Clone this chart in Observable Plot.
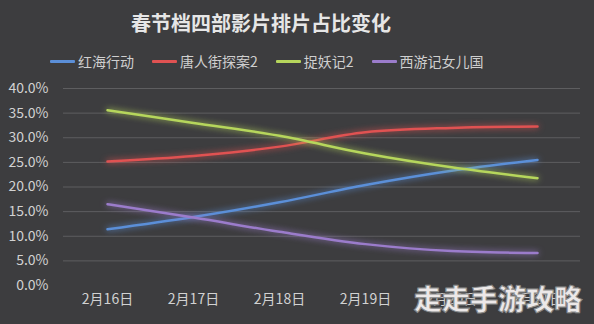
<!DOCTYPE html>
<html><head><meta charset="utf-8">
<script src="https://cdn.jsdelivr.net/npm/d3@7"></script>
<script src="https://cdn.jsdelivr.net/npm/@observablehq/plot@0.6"></script>
<style>
html,body{margin:0;padding:0;}
body{width:594px;height:324px;background:#3d3d3f;position:relative;overflow:hidden;font-family:"Noto Sans CJK SC","Noto Sans",sans-serif;}
#title{position:absolute;left:0;width:522px;top:8px;text-align:center;color:#e6e6e6;font-size:20px;font-weight:bold;line-height:30px;}
#legend{position:absolute;left:50px;top:50px;display:flex;gap:18px;color:#cfcfcf;font-size:14px;line-height:22px;}
#legend .it{display:flex;align-items:center;gap:3px;}
#legend .sw{width:25px;height:3px;border-radius:1px;}
#chart{position:absolute;left:0;top:72px;}
#wm{position:absolute;left:414px;top:280px;font-size:28px;font-weight:900;color:#ece8e8;letter-spacing:0px;-webkit-text-stroke:1px #8a8a8a;text-shadow:0 0 2px #666;line-height:36px;}
</style></head>
<body>
<div id="title"></div>
<div id="legend"></div>
<div id="chart"></div>
<div id="wm">走走手游攻略</div>
<script>
const titleText = "春节档四部影片排片占比变化";
const dates = ["2月16日","2月17日","2月18日","2月19日","2月20日","2月21日"];
const series = ["红海行动","唐人街探案2","捉妖记2","西游记女儿国"];
const colors = ["#5b8fd8","#e05252","#b6d65c","#9b7ccb"];
const honghai = [11.4,13.9,16.9,20.4,23.3,25.5];
const tangren = [25.2,26.3,28.2,31.1,32.0,32.3];
const zhuoyao = [35.6,33.0,30.4,26.8,24.0,21.8];
const xiyou   = [16.5,13.8,10.9,8.4,7.0,6.6];
const yTicks = [0,5,10,15,20,25,30,35,40];

const valuesBySeries = [honghai, tangren, zhuoyao, xiyou];
const data = [];
series.forEach((s,i)=>dates.forEach((d,j)=>data.push({series:s,date:d,value:valuesBySeries[i][j]})));

document.getElementById("title").textContent = titleText;
const lg = document.getElementById("legend");
series.forEach((s,i)=>{
  const it=document.createElement("div");it.className="it";
  const sw=document.createElement("div");sw.className="sw";sw.style.background=colors[i];
  const t=document.createElement("span");t.textContent=s;
  it.appendChild(sw);it.appendChild(t);lg.appendChild(it);
});

const chart = Plot.plot({
  width:594, height:252,
  marginTop:16, marginLeft:63, marginRight:14, marginBottom:39,
  style:{background:"transparent", color:"#d2d2d2", fontSize:"14px", fontFamily:'"Noto Sans CJK SC","Noto Sans",sans-serif'},
  x:{type:"point", domain:dates, padding:0.5, label:null},
  y:{domain:[0,40], label:null},
  color:{domain:series, range:colors},
  marks:[
    Plot.ruleY(yTicks.filter(d=>d>0), {stroke:"#5e5e60", strokeWidth:1}),
    Plot.axisY({ticks:yTicks, tickFormat:d=>d.toFixed(1)+"%", tickSize:0, tickPadding:15, fontSize:14, label:null}),
    Plot.axisX({tickSize:0, tickPadding:9, fontSize:14, label:null}),
    Plot.line(data, {x:"date", y:"value", z:"series", stroke:"series", curve:"monotone-x", strokeWidth:2.5})
  ]
});
chart.querySelectorAll('g[aria-label="line"] path').forEach(p=>{
  const c=p.getAttribute("stroke");
  p.style.filter=`drop-shadow(0 0 3px ${c})`;
});
document.getElementById("chart").appendChild(chart);
</script>
</body></html>
